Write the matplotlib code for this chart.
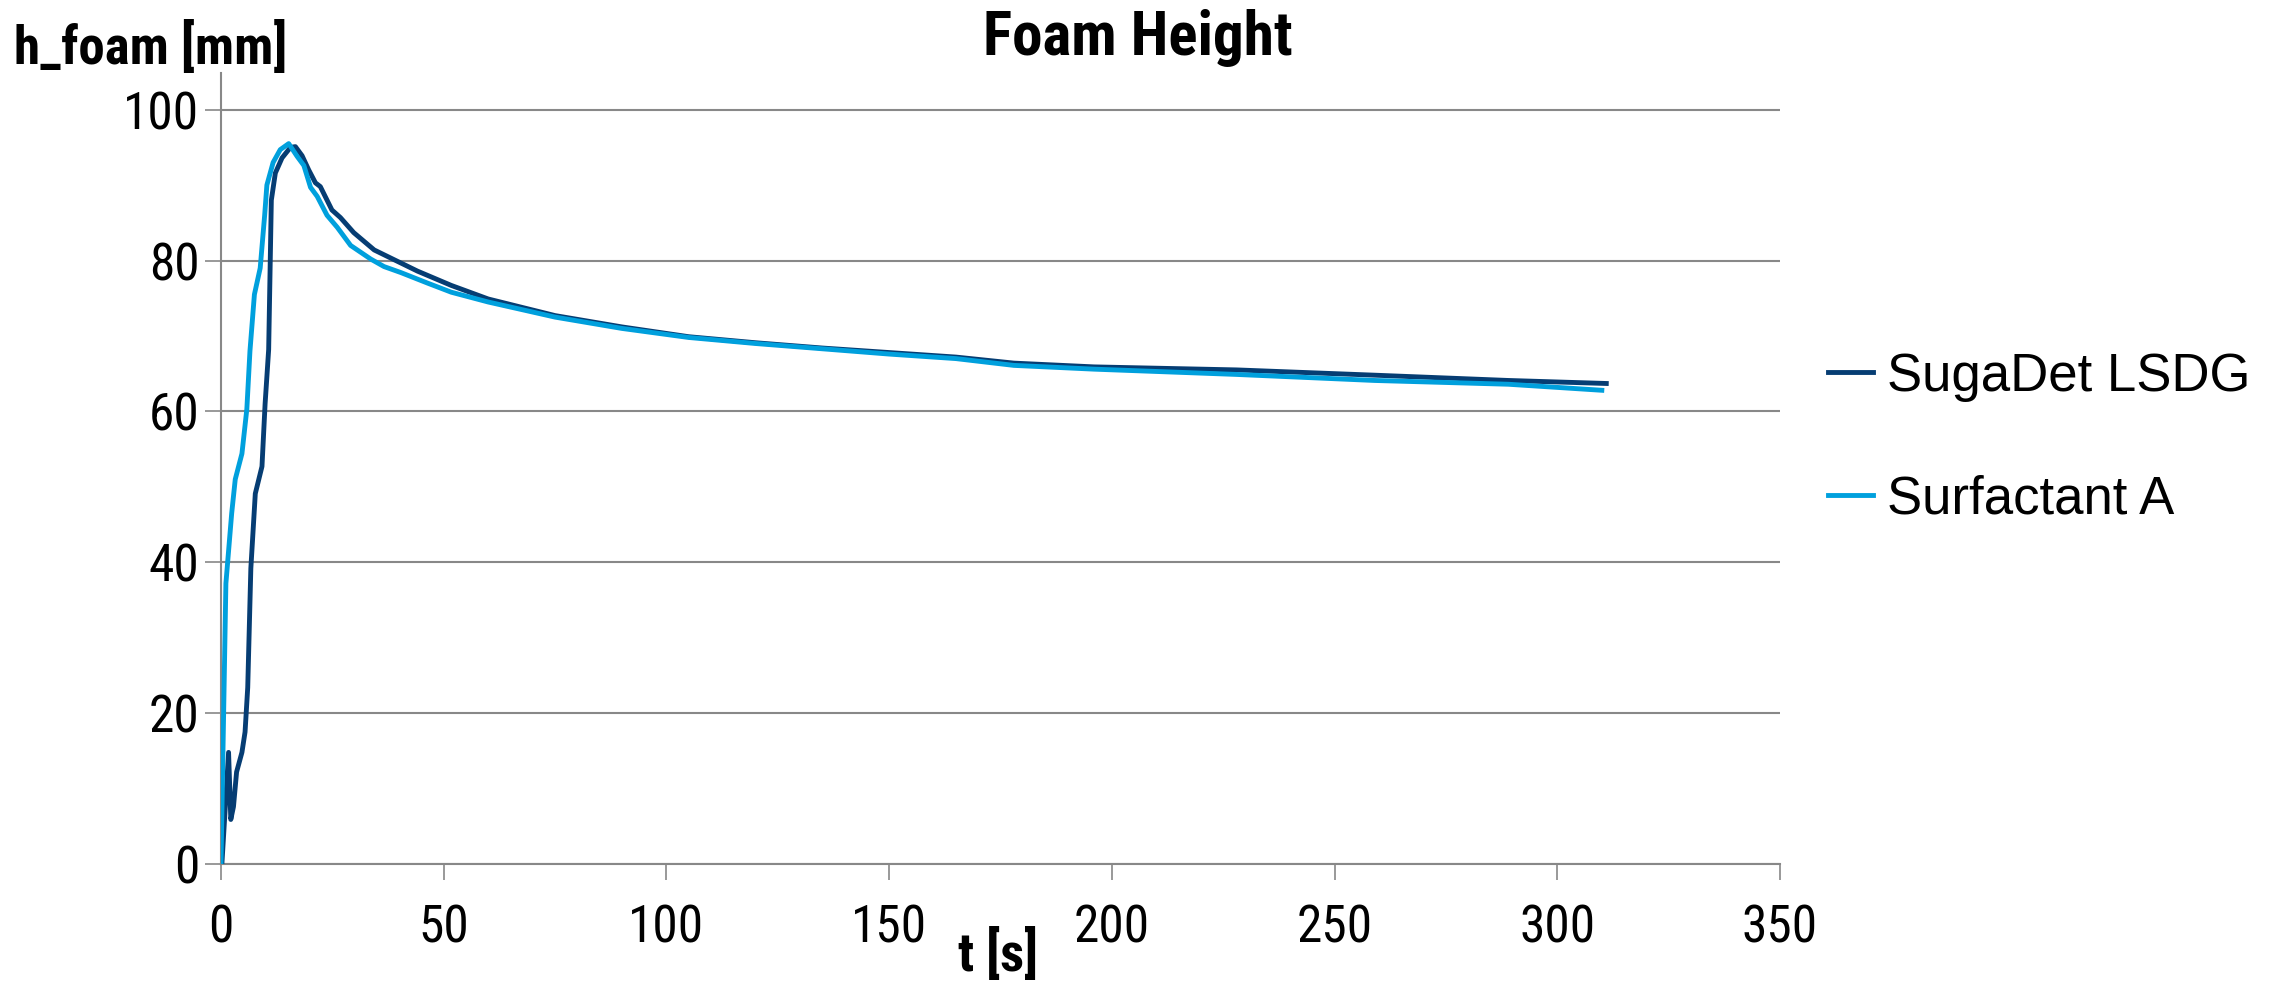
import matplotlib
matplotlib.use("Agg")
import matplotlib.pyplot as plt
from matplotlib import font_manager

# ---- data ----
t_suga = [0, 0.2, 1.7, 2.2, 2.8, 3.5, 4.7, 5.4, 6.0, 6.7, 7.7, 9.2, 9.9, 10.7, 11.1, 11.3,
          12.2, 13.7, 15.6, 16.7, 18.2, 19.7, 21.2, 22.3, 24.9, 26.8, 29.8, 34.4, 38.9,
          44.1, 51.7, 60, 75, 90, 105, 120, 135, 150, 165, 178, 196, 228, 259, 289, 311]
h_suga = [0, 0, 14.8, 5.9, 7.6, 12.2, 14.8, 17.5, 23.4, 39.2, 49.1, 52.7, 61, 68.2, 81.4, 88,
          91.6, 93.6, 95, 95.1, 93.9, 92, 90.3, 89.8, 86.7, 85.7, 83.7, 81.4, 80.1,
          78.6, 76.7, 74.9, 72.7, 71.2, 69.9, 69.1, 68.4, 67.8, 67.2, 66.4, 65.9, 65.5, 64.8, 64.1, 63.7]

t_surf = [0, 1.1, 2.4, 3.2, 4.7, 5.8, 6.5, 7.5, 8.8, 9.8, 10.3, 11.7, 13.3, 15.2, 17.1, 18.6,
          20.1, 21.6, 23.8, 26.1, 29.1, 33.6, 36.6, 40.4, 46.4, 51.7, 60, 75, 90, 105, 120,
          135, 150, 165, 178, 196, 228, 259, 289, 310]
h_surf = [0, 37.2, 46.5, 51, 54.4, 60.3, 68, 75.5, 79, 86, 90, 93, 94.7, 95.5, 93.8, 92.6,
          89.7, 88.5, 86, 84.4, 82, 80.2, 79.2, 78.4, 77, 75.8, 74.5, 72.5, 71.0, 69.8, 69.0,
          68.3, 67.6, 67.0, 66.1, 65.6, 64.9, 64.1, 63.6, 62.8]

series_names = ["SugaDet LSDG", "Surfactant A"]
x_ticks = [0, 50, 100, 150, 200, 250, 300, 350]
y_ticks = [0, 20, 40, 60, 80, 100]

# ---- fonts ----
weights = {}
for f in font_manager.fontManager.ttflist:
    if f.style == "normal":
        weights.setdefault(f.name, set()).add(int(f.weight) if str(f.weight).isdigit() else 400)
pref = ["Liberation Sans Narrow", "Arial Narrow", "Nimbus Sans Narrow", "Roboto Condensed",
        "PT Sans Narrow", "Archivo Narrow", "Pragati Narrow", "Fira Sans Condensed",
        "IBM Plex Sans Condensed", "Encode Sans Condensed", "Asap Condensed",
        "Barlow Semi Condensed", "Sofia Sans Condensed"]
reg_n = [n for n in pref if n in weights and (weights[n] & {400})]
bold_n = [n for n in pref if n in weights and any(w >= 700 for w in weights[n])]
narrow = reg_n[:1] + ["Liberation Sans", "DejaVu Sans"]
narrow_bold = bold_n[:1] + ["Liberation Sans", "DejaVu Sans"]
regular = ["Liberation Sans", "DejaVu Sans"]

fig = plt.figure(figsize=(22.79, 9.83), dpi=100)
ax = fig.add_axes([221/2279, 1-864/983, (1780-221)/2279, (864-72.7)/983])

dark = "#063d73"
light = "#00a0dd"
ax.plot(t_suga, h_suga, color=dark, lw=3.5, label=series_names[0], solid_joinstyle="round", zorder=3)
ax.plot(t_surf, h_surf, color=light, lw=3.5, label=series_names[1], solid_joinstyle="round", zorder=4)

ax.set_xlim(0, 350)
ax.set_ylim(0, 104.9)
ax.set_xticks(x_ticks)
ax.set_yticks(y_ticks)
ax.yaxis.grid(True, color="#888888", lw=1.5)
ax.set_axisbelow(True)
for s in ["top", "right"]:
    ax.spines[s].set_visible(False)
for s in ["left", "bottom"]:
    ax.spines[s].set_color("#888888")
    ax.spines[s].set_linewidth(1.5)
ax.tick_params(axis="both", direction="out", length=11.5, width=1.2, color="#888888")
ax.tick_params(axis="x", pad=17)
ax.tick_params(axis="y", pad=4)
for lab in ax.get_xticklabels() + ax.get_yticklabels():
    lab.set_fontfamily(narrow)
    lab.set_fontsize(37)

fig.text(1138/2279, 1-38/983, "Foam Height", ha="center", va="center",
         fontsize=44, fontweight="bold", family=narrow_bold)
fig.text(14/2279, 1-48/983, "h_foam [mm]", ha="left", va="center",
         fontsize=38, fontweight="bold", family=narrow_bold)
fig.text(998/2279, 1-955/983, "t [s]", ha="center", va="center",
         fontsize=38, fontweight="bold", family=narrow_bold)

leg = ax.legend(loc="center left", bbox_to_anchor=(1828/2279, 1-438/983),
                bbox_transform=fig.transFigure, frameon=False, borderpad=0, borderaxespad=0,
                handlelength=0.85, handletextpad=0.27, labelspacing=1.38,
                prop={"family": regular, "size": 38})

fig.savefig("out.png", dpi=100)
